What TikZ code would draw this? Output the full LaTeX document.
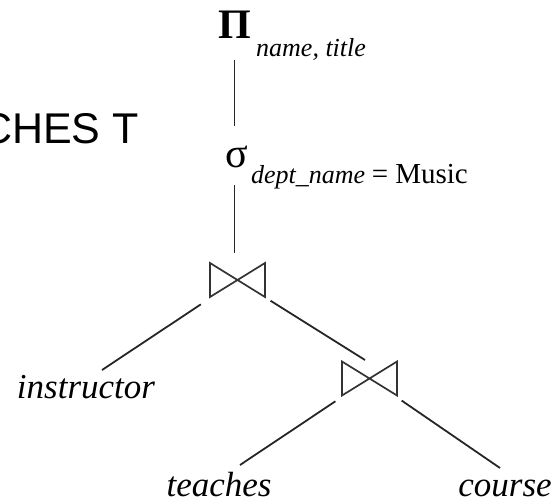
\documentclass[tikz,border=0pt]{standalone}
\usepackage{fontspec}
\setmainfont{Liberation Serif}
\newfontfamily\headfont{Liberation Sans}
\usetikzlibrary{calc}

% pixel-like coordinates: x to the right, y downwards
\tikzset{
  x=1pt, y=-1pt,
  edge/.style={line width=1.8pt, draw=black!85},
  joinbox/.style={minimum width=55pt, minimum height=34pt, inner sep=0pt, outer sep=0pt},
  joinline/.style={line width=1.7pt, draw=black!80, line join=miter},
  opsym/.style={inner sep=0pt, outer sep=0pt, anchor=base},
  subtext/.style={inner sep=0pt, anchor=base west, font=\fontsize{26}{26}\selectfont},
  relname/.style={inner sep=0pt, anchor=base, font=\fontsize{35}{35}\selectfont\itshape},
}

% draws the natural-join symbol inside a join box
\newcommand{\drawjoin}[1]{%
  \draw[joinline] (#1.north west) -- (#1.south east) -- (#1.north east)
    -- (#1.south west) -- cycle;}

\begin{document}
\begin{tikzpicture}
\useasboundingbox (0,0) rectangle (555,504);

% heading fragment at the left edge
\node[inner sep=0pt, anchor=base west, font=\headfont\fontsize{43}{43}\selectfont] (head) at (-19,143) {CHES T};

% projection
\node[opsym, font=\fontsize{42}{42}\selectfont\bfseries] (proj) at (234.5,38) {Π};
\node[subtext] (projsub) at (256,56) {\itshape name, title};

% selection
\node[opsym, font=\fontsize{42}{42}\selectfont] (sel) at (237,167) {σ};
\node[subtext] (selsub) at (251,183) {\itshape dept\_name\/\upshape{} \fontsize{29}{29}\selectfont= Music};

% joins
\node[joinbox] (j1) at (237.5,280) {};
\node[joinbox] (j2) at (369.5,378.5) {};
\drawjoin{j1}
\drawjoin{j2}

% relations
\node[relname] (instr) at (86,398) {instructor};
\node[relname] (teach) at (219,496) {teaches};
\node[relname] (course) at (505,496) {course};

% free ends of the leaf connectors
\coordinate (instrtop) at (102,370);
\coordinate (teachtop) at (240,465);
\coordinate (coursetop) at (500,468);

% connectors
\draw[edge, shorten <=22pt, shorten >=20pt] (proj.base) -- (proj.base |- sel.north);
\draw[edge, shorten <=18pt, shorten >=10pt] (proj.base |- sel.base) -- (proj.base |- j1.north);
\draw[edge, shorten <=44pt] (j1.center) -- (instrtop);
\draw[edge, shorten <=39pt] (j1.center) -- ($(j1.center)!1!(365,360)$);
\draw[edge, shorten <=41pt] (j2.center) -- (teachtop);
\draw[edge, shorten <=39pt] (j2.center) -- (coursetop);
\end{tikzpicture}
\end{document}
